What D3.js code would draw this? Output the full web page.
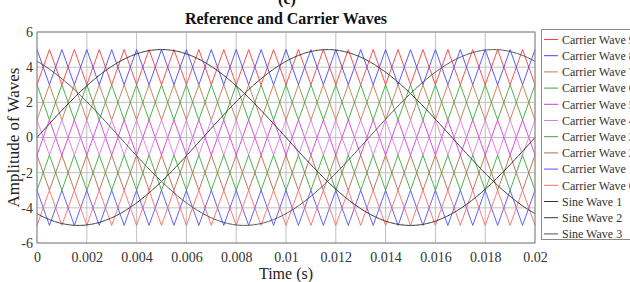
<!DOCTYPE html>
<html><head><meta charset="utf-8">
<script src="https://cdn.jsdelivr.net/npm/d3@7"></script>
<style>body{margin:0;background:#fff}svg{display:block}</style>
</head><body>
<svg id="c" width="630" height="282"></svg>
<script>
// ---- data ----
const timeTicks = [0,0.002,0.004,0.006,0.008,0.01,0.012,0.014,0.016,0.018,0.02];
const timeTickLabels = ["0","0.002","0.004","0.006","0.008","0.01","0.012","0.014","0.016","0.018","0.02"];
const ampTicks = [-6,-4,-2,0,2,4,6];
const carrierNames = ["Carrier Wave 9","Carrier Wave 8","Carrier Wave 7","Carrier Wave 6","Carrier Wave 5","Carrier Wave 4","Carrier Wave 3","Carrier Wave 2","Carrier Wave 1","Carrier Wave 0"];
const carrierLow  = [3,3,1,1,-1,-1,-3,-3,-5,-5];
const carrierHigh = [5,5,3,3,1,1,-1,-1,-3,-3];
const carrierStartHigh = [false,true,false,true,false,true,false,true,true,false];
const carrierFreq = 1000;      // Hz (period 0.001 s)
const sineNames = ["Sine Wave 1","Sine Wave 2","Sine Wave 3"];
const sineAmp = [5,5,5];
const sineFreq = 50;           // Hz
const sinePhaseDeg = [0,-120,120];
const tStart = 0, tEnd = 0.02;

// ---- styles ----
const carrierColors = ["#ff3b3b","#4646ff","#c07a55","#3aa83a","#d83ad8","#e07ae0","#3aa83a","#b86a45","#5050ff","#ff6a6a"];
const sineColors = ["#303030","#383838","#505050"];

const svg = d3.select("#c");
const x = d3.scaleLinear().domain([0,0.02]).range([37,535]);
const y = d3.scaleLinear().domain([-6,6]).range([243,32]);
const serif = "'Liberation Serif','Times New Roman',serif";

// grid
svg.append("g").selectAll("line").data(timeTicks).join("line")
  .attr("x1",d=>x(d)).attr("x2",d=>x(d)).attr("y1",y(6)).attr("y2",y(-6))
  .attr("stroke","#c0c0c0").attr("stroke-width",1);
svg.append("g").selectAll("line").data(ampTicks).join("line")
  .attr("y1",d=>y(d)).attr("y2",d=>y(d)).attr("x1",x(0)).attr("x2",x(0.02))
  .attr("stroke","#c0c0c0").attr("stroke-width",1);

// carriers: triangle vertices every half period
const halfPeriod = 0.5/carrierFreq;
const nVert = Math.round((tEnd-tStart)/halfPeriod);
const line = d3.line().x(d=>x(d[0])).y(d=>y(d[1]));
const plot = svg.append("g");
carrierNames.forEach((name,i)=>{
  const pts = d3.range(nVert+1).map(k=>{
    const high = (k%2===0) === carrierStartHigh[i];
    return [tStart + k*halfPeriod, high ? carrierHigh[i] : carrierLow[i]];
  });
  plot.append("path").attr("d",line(pts)).attr("fill","none")
    .attr("stroke",carrierColors[i]).attr("stroke-width",0.9);
});
// sines
sineNames.forEach((name,i)=>{
  const pts = d3.range(0,401).map(k=>{
    const t = tStart + k*(tEnd-tStart)/400;
    return [t, sineAmp[i]*Math.sin(2*Math.PI*sineFreq*t + sinePhaseDeg[i]*Math.PI/180)];
  });
  plot.append("path").attr("d",line(pts)).attr("fill","none")
    .attr("stroke",sineColors[i]).attr("stroke-width",1);
});

// axes box
svg.append("rect").attr("x",x(0)).attr("y",y(6)).attr("width",x(0.02)-x(0)).attr("height",y(-6)-y(6))
  .attr("fill","none").attr("stroke","#8a8a8a").attr("stroke-width",1);

const xAxis = d3.axisBottom(x).tickValues(timeTicks).tickFormat((d,i)=>timeTickLabels[i]).tickSize(0).tickPadding(9);
const gx = svg.append("g").attr("transform",`translate(0,${y(-6)})`).call(xAxis);
const yAxis = d3.axisLeft(y).tickValues(ampTicks).tickFormat(d=>String(d)).tickSize(0).tickPadding(4);
const gy = svg.append("g").attr("transform",`translate(${x(0)},0)`).call(yAxis);
[gx,gy].forEach(g=>{
  g.select(".domain").remove();
  g.selectAll("text").attr("font-family",serif).attr("font-size",14).attr("fill","#333");
});

// labels
svg.append("text").attr("x",(x(0)+x(0.02))/2).attr("y",279).attr("text-anchor","middle")
  .attr("font-family",serif).attr("font-size",16).attr("fill","#222").text("Time (s)");
svg.append("text").attr("transform",`translate(19,${(y(6)+y(-6))/2}) rotate(-90)`).attr("text-anchor","middle")
  .attr("font-family",serif).attr("font-size",17).attr("fill","#222").text("Amplitude of Waves");
svg.append("text").attr("x",(x(0)+x(0.02))/2).attr("y",24).attr("text-anchor","middle")
  .attr("font-family",serif).attr("font-size",16).attr("font-weight","bold").attr("fill","#111").text("Reference and Carrier Waves");
svg.append("text").attr("x",287).attr("y",4).attr("text-anchor","middle")
  .attr("font-family",serif).attr("font-size",16).attr("font-weight","bold").attr("fill","#111").text("(c)");

// legend
const legNames = carrierNames.concat(sineNames);
const legColors = carrierColors.concat(sineColors);
const lg = svg.append("g");
lg.append("rect").attr("x",541.5).attr("y",29.5).attr("width",120).attr("height",210)
  .attr("fill","#fff").attr("stroke","#8a8a8a").attr("stroke-width",1);
legNames.forEach((n,i)=>{
  const yy = 39.5 + i*16.2;
  lg.append("line").attr("x1",544).attr("x2",558).attr("y1",yy).attr("y2",yy)
    .attr("stroke",legColors[i]).attr("stroke-width",1);
  lg.append("text").attr("x",562).attr("y",yy+4.3).attr("font-family",serif).attr("font-size",12)
    .attr("fill","#333").text(n);
});
</script>
</body></html>
